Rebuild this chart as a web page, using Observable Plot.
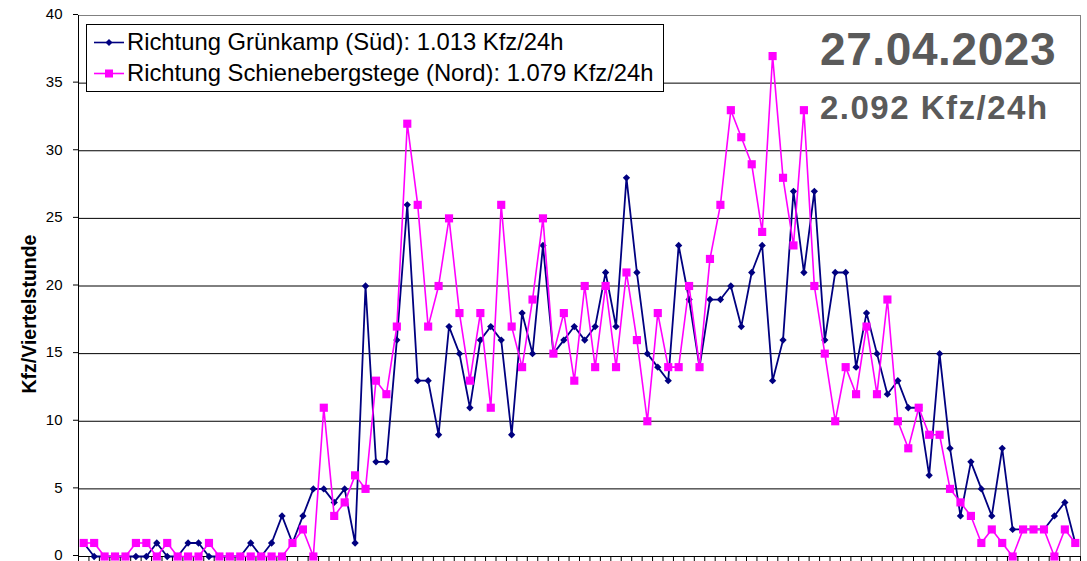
<!DOCTYPE html>
<html><head><meta charset="utf-8">
<script src="https://cdn.jsdelivr.net/npm/d3@7"></script>
<script src="https://cdn.jsdelivr.net/npm/@observablehq/plot@0.6"></script>
<style>
body{margin:0;background:#fff;}
#wrap{position:relative;width:1087px;height:561px;font-family:"Liberation Sans",Arial,sans-serif;}
#legend{position:absolute;left:86px;top:24px;width:576px;height:66px;border:1px solid #000;background:#fff;box-sizing:content-box;}
.row{position:absolute;left:0;height:24px;line-height:24px;font-size:23.8px;white-space:nowrap;color:#000;}
.row svg{position:absolute;left:7px;top:0;}
.row span{position:absolute;left:40px;top:0;}
.big{position:absolute;left:820px;font-weight:bold;color:#5a5a5a;white-space:nowrap;}
</style></head><body><div id="wrap"></div><script>
// quarter-hour slots of the day (0 = 00:00–00:15 ... 95 = 23:45–24:00)
const slots = d3.range(96);
const seriesNames = ["Richtung Grünkamp (Süd): 1.013 Kfz/24h", "Richtung Schienebergstege (Nord): 1.079 Kfz/24h"];
const seriesColors = ["#000080", "#ff00ff"];
const sued = [1,0,0,0,0,0,0,1,0,0,1,1,0,0,0,0,1,0,1,3,1,3,5,
  5,4,5,1,20,7,7,16,26,13,13,9,17,15,11,16,17,16,
  9,18,15,23,15,16,17,16,17,21,17,28,21,15,14,13,23,
  19,14,19,19,20,17,21,23,13,16,27,21,27,16,21,21,14,
  18,15,12,13,11,11,6,15,8,3,7,5,3,8,2,2,2,2,3,4,1];
const nord = [1,1,0,0,0,1,1,0,1,0,0,0,1,0,0,0,0,0,0,0,1,2,0,
  11,3,4,6,5,13,12,17,32,26,17,20,25,18,13,18,11,26,
  17,14,19,25,15,18,13,20,14,20,14,21,16,10,18,14,14,
  20,14,22,26,33,31,29,24,37,28,23,33,20,15,10,14,12,
  17,12,19,10,8,11,9,9,5,4,3,1,2,1,0,2,2,2,0,2,1];
const yTicks = [0,5,10,15,20,25,30,35,40];
const yLabel = "Kfz/Viertelstunde";
const dateText = "27.04.2023";
const totalText = "2.092 Kfz/24h";

const boundaries = d3.range(-0.5, 96, 1);
const chart = Plot.plot({
  width: 1087, height: 561,
  marginLeft: 78, marginRight: 7, marginTop: 15, marginBottom: 5,
  style: {fontFamily: '"Liberation Sans", Arial, sans-serif', fontSize: "15px", background: "#fff", color: "#000"},
  x: {type: "linear", domain: [-0.5, 95.5], axis: null},
  y: {domain: [0, 40], axis: null},
  marks: [
    Plot.frame({stroke: "#808080"}),
    Plot.ruleY(yTicks.filter(d => d > 0 && d < 40), {stroke: "#000", strokeWidth: 1}),
    Plot.ruleY([0], {stroke: "#000"}),
    Plot.ruleX([-0.5], {stroke: "#000"}),
    Plot.axisY({ticks: yTicks, tickSize: 5, tickPadding: 11, fontSize: 15, label: null, stroke: "#000", dy: -1}),
    Plot.axisX({ticks: boundaries, tickSize: 5, tickFormat: () => "", label: null, stroke: "#000"}),
    Plot.line(sued, {x: (d, i) => slots[i], y: d => d, stroke: seriesColors[0], strokeWidth: 1.8}),
    Plot.dot(sued, {x: (d, i) => slots[i], y: d => d, symbol: "diamond2", r: 3.3, fill: seriesColors[0], stroke: "none"}),
    Plot.line(nord, {x: (d, i) => slots[i], y: d => d, stroke: seriesColors[1], strokeWidth: 1.6}),
    Plot.dot(nord, {x: (d, i) => slots[i], y: d => d, symbol: "square", r: 4.6, fill: seriesColors[1], stroke: "none"})
  ]
});
// rotated y-axis title
d3.select(chart).append("text")
  .attr("transform", "translate(36,314) rotate(-90)")
  .attr("text-anchor", "middle")
  .attr("font-size", 19.5)
  .attr("font-weight", "bold")
  .attr("fill", "#000")
  .text(yLabel);
const wrap = document.getElementById("wrap");
wrap.appendChild(chart);

// legend
const legend = document.createElement("div");
legend.id = "legend";
seriesNames.forEach((name, k) => {
  const row = document.createElement("div");
  row.className = "row";
  row.style.top = (k === 0 ? 5 : 36) + "px";
  const sw = d3.create("svg").attr("width", 32).attr("height", 24);
  sw.append("line").attr("x1", 0).attr("x2", 30).attr("y1", 12.5).attr("y2", 12.5).attr("stroke", seriesColors[k]).attr("stroke-width", 1.6);
  if (k === 0) sw.append("path").attr("d", "M15,9L18.5,12.5L15,16L11.5,12.5Z").attr("fill", seriesColors[k]);
  else sw.append("rect").attr("x", 11).attr("y", 8.5).attr("width", 8).attr("height", 8).attr("fill", seriesColors[k]);
  row.appendChild(sw.node());
  const sp = document.createElement("span");
  sp.textContent = name;
  row.appendChild(sp);
  legend.appendChild(row);
});
wrap.appendChild(legend);

const d1 = document.createElement("div");
d1.className = "big"; d1.textContent = dateText;
d1.style.fontSize = "46px"; d1.style.lineHeight = "46px"; d1.style.top = "26px"; d1.style.letterSpacing = "0.6px";
wrap.appendChild(d1);
const d2 = document.createElement("div");
d2.className = "big"; d2.textContent = totalText;
d2.style.fontSize = "33px"; d2.style.lineHeight = "33px"; d2.style.top = "91px"; d2.style.letterSpacing = "1.5px";
wrap.appendChild(d2);
</script></body></html>
